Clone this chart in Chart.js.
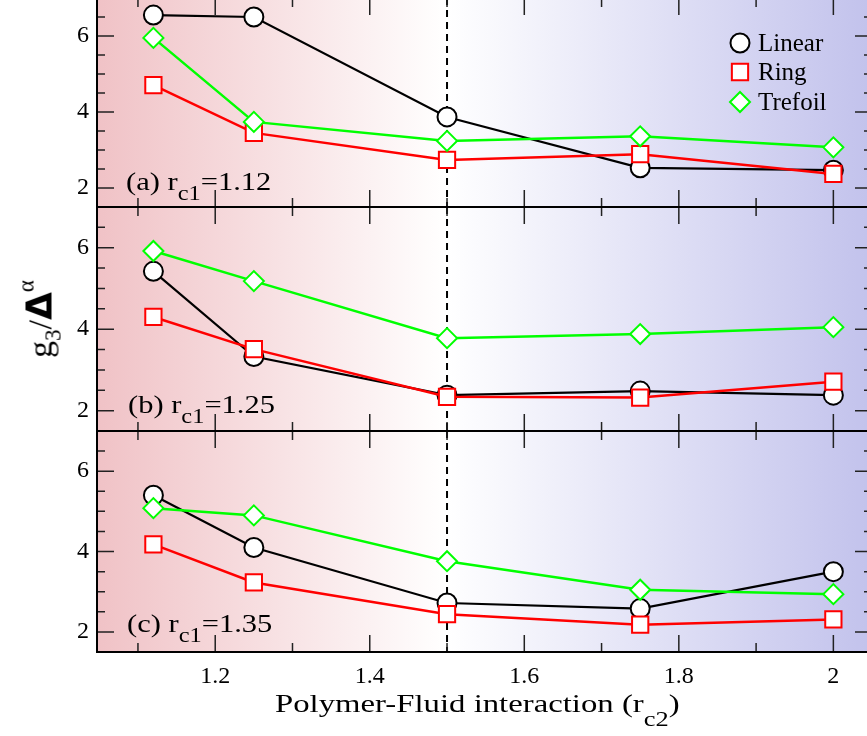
<!DOCTYPE html>
<html>
<head>
<meta charset="utf-8">
<script src="https://cdn.jsdelivr.net/npm/chart.js@4.4.0/dist/chart.umd.min.js"></script>
<style>
  html, body { margin: 0; padding: 0; background: #fff; }
  #wrap { position: relative; width: 867px; height: 736px; overflow: hidden; font-family: "Liberation Serif", serif; color: #000; }
  #wrap canvas { position: absolute; left: 0; }
  .lbl { position: absolute; white-space: nowrap; line-height: 25px; font-size: 25px; transform-origin: 0 0; transform: scaleX(1.22); z-index: 5; }
  .lbl .sb { font-size: 20px; position: relative; top: 10px; }
  #xtitle { position: absolute; left: 275px; top: 691px; font-size: 26px; line-height: 26px; white-space: nowrap; transform-origin: 0 0; transform: scaleX(1.26); z-index: 5; }
  #xtitle .sb { font-size: 21px; position: relative; top: 14px; }
  #ytitle { position: absolute; left: 42px; top: 319px; transform: translate(-50%, -50%) rotate(-90deg); font-size: 34px; line-height: 34px; white-space: nowrap; z-index: 5; }
  #ytitle .s3 { font-size: 23px; position: relative; top: 9px; }
  #ytitle .dl { font-family: "DejaVu Sans", sans-serif; font-weight: bold; font-size: 36px; }
  #ytitle .al { font-size: 23px; position: relative; top: -18px; }
</style>
</head>
<body>
<div id="wrap">
  <canvas id="chartA" width="872" height="209" style="top:-2px"></canvas>
  <canvas id="chartB" width="872" height="224" style="top:207px"></canvas>
  <canvas id="chartC" width="872" height="305" style="top:431px"></canvas>
  <div class="lbl" style="left:126px; top:169px">(a) r<span class="sb">c1</span>=1.12</div>
  <div class="lbl" style="left:128px; top:392px">(b) r<span class="sb">c1</span>=1.25</div>
  <div class="lbl" style="left:127px; top:611px">(c) r<span class="sb">c1</span>=1.35</div>
  <div id="xtitle">Polymer-Fluid interaction (r<span class="sb">c2</span>)</div>
  <div id="ytitle">g<span class="s3">3</span>/<span class="dl">Δ</span><span class="al">α</span></div>
</div>
<script>
// valores
const rc2 = [1.12, 1.25, 1.5, 1.75, 2.0];

const linearA = [6.55, 6.50, 3.87, 2.53, 2.47];
const ringA = [4.71, 3.45, 2.74, 2.89, 2.37];
const trefoilA = [5.95, 3.74, 3.24, 3.36, 3.07];

const linearB = [5.42, 3.33, 2.38, 2.48, 2.38];
const ringB = [4.30, 3.51, 2.34, 2.32, 2.71];
const trefoilB = [5.92, 5.18, 3.78, 3.88, 4.05];

const linearC = [5.40, 4.10, 2.72, 2.58, 3.50];
const ringC = [4.18, 3.23, 2.44, 2.18, 2.31];
const trefoilC = [5.08, 4.90, 3.76, 3.05, 2.94];

const xMajor = [1.2, 1.4, 1.6, 1.8, 2.0];
const xMinor = [1.1, 1.3, 1.5, 1.7, 1.9];
const yMajor = [2, 4, 6];
const yMinor = [2.5, 3, 3.5, 4.5, 5, 5.5, 6.5];

const series = [
  { label: "Linear", color: "#000000", pointStyle: "circle", radius: 9.5, width: 2.2, order: 3 },
  { label: "Ring", color: "#ff0000", pointStyle: "rect", radius: 11.5, width: 2.5, order: 2 },
  { label: "Trefoil", color: "#00ff00", pointStyle: "rectRot", radius: 10, width: 2.5, order: 1 }
];

function drawMarker(ctx, s, x, y) {
  ctx.save();
  ctx.fillStyle = "#fff";
  ctx.strokeStyle = s.color;
  ctx.lineWidth = 2;
  ctx.beginPath();
  if (s.pointStyle === "circle") {
    ctx.arc(x, y, s.radius, 0, Math.PI * 2);
  } else if (s.pointStyle === "rect") {
    const h = s.radius * Math.SQRT1_2;
    ctx.rect(x - h, y - h, 2 * h, 2 * h);
  } else {
    ctx.moveTo(x, y - s.radius);
    ctx.lineTo(x + s.radius, y);
    ctx.lineTo(x, y + s.radius);
    ctx.lineTo(x - s.radius, y);
    ctx.closePath();
  }
  ctx.fill();
  ctx.stroke();
  ctx.restore();
}

// fundo em degradê, linha tracejada, moldura e ticks para dentro
const frame = {
  id: "frame",
  beforeDraw(chart) {
    const { ctx, chartArea: a } = chart;
    const x = chart.scales.x;
    const f = (x.getPixelForValue(1.5) - a.left) / (a.right - a.left);
    const g = ctx.createLinearGradient(a.left, 0, a.right, 0);
    g.addColorStop(0, "#f0c2c6");
    g.addColorStop(f, "#ffffff");
    g.addColorStop(1, "#c2c2ec");
    ctx.save();
    ctx.fillStyle = g;
    ctx.fillRect(a.left, a.top, a.right - a.left, a.bottom - a.top);
    ctx.restore();
  },
  beforeDatasetsDraw(chart) {
    const { ctx, chartArea: a } = chart;
    const x = chart.scales.x, y = chart.scales.y;
    ctx.save();
    // linha tracejada em 1.5
    const xd = x.getPixelForValue(1.5);
    ctx.strokeStyle = "#000";
    ctx.lineWidth = 2;
    ctx.setLineDash([7, 5]);
    ctx.beginPath();
    ctx.moveTo(xd, a.top);
    ctx.lineTo(xd, a.bottom);
    ctx.stroke();
    ctx.setLineDash([]);
    // ticks
    ctx.lineWidth = 1.5;
    ctx.strokeStyle = "#222";
    ctx.beginPath();
    const tx = (v, len) => {
      const p = x.getPixelForValue(v);
      ctx.moveTo(p, a.bottom); ctx.lineTo(p, a.bottom - len);
      ctx.moveTo(p, a.top); ctx.lineTo(p, a.top + len);
    };
    const ty = (v, len) => {
      const p = y.getPixelForValue(v);
      ctx.moveTo(a.left, p); ctx.lineTo(a.left + len, p);
      ctx.moveTo(a.right, p); ctx.lineTo(a.right - len, p);
    };
    xMajor.forEach(v => tx(v, 17));
    xMinor.forEach(v => tx(v, 9));
    yMajor.forEach(v => ty(v, 17));
    yMinor.forEach(v => ty(v, 8));
    ctx.stroke();
    // moldura
    ctx.lineWidth = 2;
    ctx.strokeStyle = "#000";
    ctx.strokeRect(a.left, a.top, a.right - a.left, a.bottom - a.top);
    ctx.restore();
  },
  afterDraw(chart, args, opts) {
    if (!opts.legend) return;
    const ctx = chart.ctx;
    const ys = [45, 74, 104];
    ctx.save();
    ctx.font = '25px "Liberation Serif"';
    ctx.fillStyle = "#000";
    ctx.textBaseline = "alphabetic";
    series.forEach((s, i) => {
      drawMarker(ctx, s, 740, ys[i]);
      ctx.fillText(s.label, 758, ys[i] + 8);
    });
    ctx.restore();
  }
};

function makePanel(id, values, bottomAxis, legend) {
  new Chart(document.getElementById(id), {
    type: "line",
    data: {
      datasets: series.map((s, i) => ({
        label: s.label,
        data: rc2.map((r, j) => ({ x: r, y: values[i][j] })),
        borderColor: s.color,
        borderWidth: s.width,
        pointStyle: s.pointStyle,
        pointRadius: s.radius,
        pointBorderWidth: 2,
        pointBackgroundColor: "#ffffff",
        pointBorderColor: s.color,
        order: s.order,
        tension: 0
      }))
    },
    options: {
      responsive: false,
      animation: false,
      devicePixelRatio: 1,
      layout: { padding: 0, autoPadding: false },
      plugins: { legend: { display: false }, tooltip: { enabled: false }, frame: { legend: legend } },
      scales: {
        x: {
          type: "linear",
          min: 1.047,
          max: 2.05,
          display: bottomAxis,
          afterBuildTicks: s => { s.ticks = xMajor.map(v => ({ value: v })); },
          afterFit: s => { s.height = bottomAxis ? 84 : 0; s.paddingLeft = 0; s.paddingRight = 0; },
          grid: { display: false, drawTicks: false },
          border: { display: false },
          ticks: { color: "#000", padding: 10, maxRotation: 0, font: { family: "Liberation Serif", size: 24 }, callback: v => String(v) }
        },
        y: {
          min: 1.5,
          max: 7,
          afterBuildTicks: s => { s.ticks = yMajor.map(v => ({ value: v })); },
          afterFit: s => { s.width = 97; s.paddingTop = 0; s.paddingBottom = 0; },
          grid: { display: false, drawTicks: false },
          border: { display: false },
          ticks: { color: "#000", padding: 8, font: { family: "Liberation Serif", size: 24 }, callback: v => String(v) }
        }
      }
    },
    plugins: [frame]
  });
}

makePanel("chartA", [linearA, ringA, trefoilA], false, true);
makePanel("chartB", [linearB, ringB, trefoilB], false, false);
makePanel("chartC", [linearC, ringC, trefoilC], true, false);
</script>
</body>
</html>
